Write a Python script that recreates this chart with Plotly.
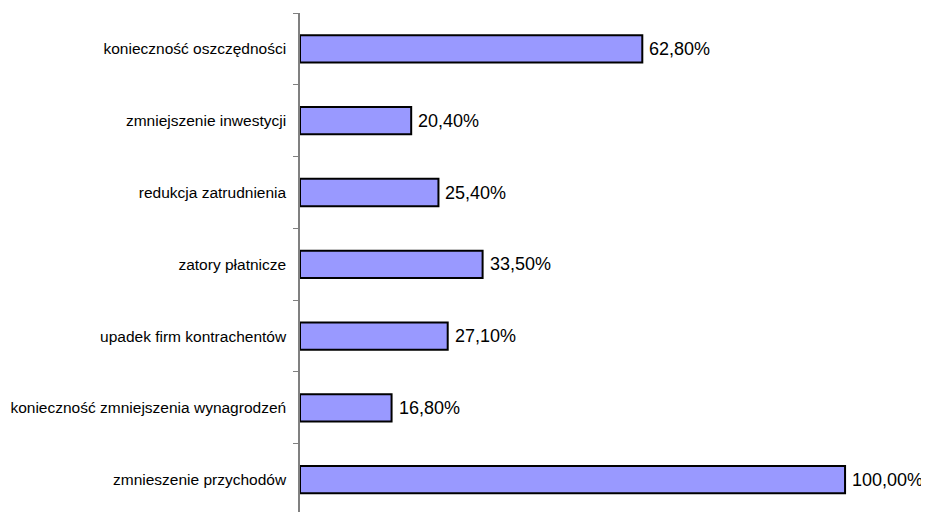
import plotly.graph_objects as go

categories = [
    "zmnieszenie przychodów",
    "konieczność zmniejszenia wynagrodzeń",
    "upadek firm kontrachentów",
    "zatory płatnicze",
    "redukcja zatrudnienia",
    "zmniejszenie inwestycji",
    "konieczność oszczędności",
]
values = [100.0, 16.8, 27.1, 33.5, 25.4, 20.4, 62.8]
value_labels = ["100,00%", "16,80%", "27,10%", "33,50%", "25,40%", "20,40%", "62,80%"]

FONT = "Liberation Sans, Arial, sans-serif"

fig = go.Figure()
fig.add_trace(go.Bar(
    y=categories, x=values, orientation="h",
    marker=dict(color="#9999FF", line=dict(color="#000000", width=2)),
    width=0.38,
    hoverinfo="skip",
))

for c, v, t in zip(categories, values, value_labels):
    fig.add_annotation(x=v, y=c, text=t, showarrow=False, xanchor="left",
                       xshift=5, font=dict(family=FONT, size=18, color="#000000"))

# page body has an 8px margin, so the figure is 8px smaller and shifted
fig.update_layout(
    width=921, height=504,
    margin=dict(l=292, r=0, t=5, b=0, autoexpand=False),
    paper_bgcolor="white", plot_bgcolor="white",
    showlegend=False,
    xaxis=dict(range=[0, 115.4], visible=False, showgrid=False, zeroline=False,
               automargin=False),
    yaxis=dict(type="category", categoryorder="array", categoryarray=categories,
               range=[-0.45, 6.5], automargin=False,
               showline=True, linecolor="#808080", linewidth=1.5,
               ticks="outside", tickson="boundaries", ticklen=5, tickcolor="#808080",
               ticklabelstandoff=9,
               tickfont=dict(family=FONT, size=15.5, color="#000000"),
               showgrid=False, zeroline=False),
)

fig.write_html("out.html")
